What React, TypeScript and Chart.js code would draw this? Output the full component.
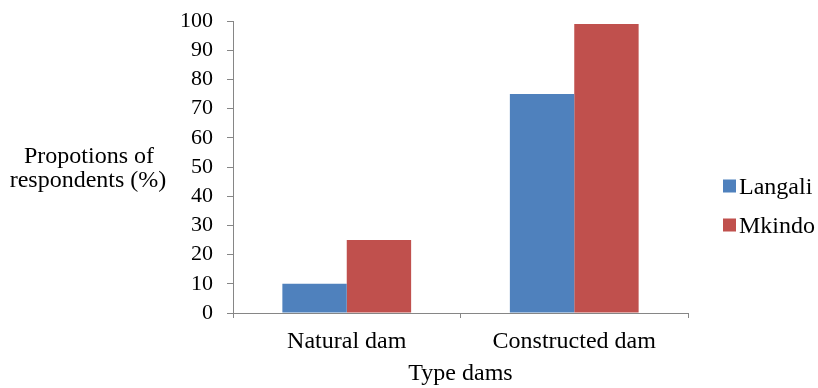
import React, { useEffect, useRef } from "react";
import { Chart, registerables } from "chart.js";

Chart.register(...registerables);

const categories = ["Natural dam", "Constructed dam"];
const langali = [10, 75];
const mkindo = [25, 99];
const seriesNames = ["Langali", "Mkindo"];
const seriesColors = ["#4F81BD", "#C0504D"];
const yTitleLines = ["Propotions of", "respondents (%)"];
const xTitle = "Type dams";

const FONT = "'Liberation Serif', 'Times New Roman', serif";

const extrasPlugin = {
  id: "extras",
  afterDraw(chart: any) {
    const ctx = chart.ctx;
    ctx.save();
    ctx.fillStyle = "#000";
    ctx.font = `24px ${FONT}`;
    ctx.textAlign = "center";
    ctx.textBaseline = "alphabetic";
    ctx.fillText(yTitleLines[0], 89, 163);
    ctx.fillText(yTitleLines[1], 88, 187);
    const items = chart.data.datasets;
    items.forEach((ds: any, i: number) => {
      const y = 186 + i * 39;
      ctx.fillStyle = ds.backgroundColor;
      ctx.fillRect(723, y - 6.5, 13, 13);
      ctx.fillStyle = "#000";
      ctx.textAlign = "left";
      ctx.textBaseline = "alphabetic";
      ctx.fillText(ds.label, 739, y + 7.5);
    });
    ctx.restore();
  },
};

export default function App() {
  const ref = useRef<HTMLCanvasElement>(null);
  useEffect(() => {
    document.body.style.margin = "0";
    const chart = new Chart(ref.current!, {
      type: "bar",
      data: {
        labels: categories,
        datasets: [
          { label: seriesNames[0], data: langali, backgroundColor: seriesColors[0], borderWidth: 0 },
          { label: seriesNames[1], data: mkindo, backgroundColor: seriesColors[1], borderWidth: 0 },
        ],
      },
      options: {
        animation: false,
        responsive: false,
        devicePixelRatio: 1,
        layout: { padding: { top: 21, right: 130, left: 0, bottom: 0 } },
        plugins: { legend: { display: false }, tooltip: { enabled: false } },
        datasets: { bar: { categoryPercentage: 0.566, barPercentage: 1 } } as any,
        scales: {
          x: {
            grid: { drawOnChartArea: false, drawTicks: true, tickLength: 5, color: "#868686", offset: true },
            border: { color: "#868686", width: 1 },
            ticks: { color: "#000", font: { family: FONT, size: 24 }, padding: 9, maxRotation: 0 },
            title: { display: true, text: xTitle, color: "#000", font: { family: FONT, size: 24 }, padding: { top: -2, bottom: 0 } },
            afterFit: (s: any) => { s.height = 75; s.paddingLeft = 0; s.paddingRight = 0; },
          },
          y: {
            min: 0,
            max: 100,
            grid: { drawOnChartArea: false, drawTicks: true, tickLength: 6, color: "#868686" },
            border: { color: "#868686", width: 1 },
            ticks: { stepSize: 10, autoSkip: false, color: "#000", font: { family: FONT, size: 22 }, padding: 14 },
            afterFit: (s: any) => { s.width = 233; s.paddingTop = 0; s.paddingBottom = 0; },
          },
        },
      },
      plugins: [extrasPlugin],
    });
    return () => chart.destroy();
  }, []);
  return (
    <div style={{ position: "absolute", left: 0, top: 0, width: 818, height: 388, background: "#fff" }}>
      <canvas ref={ref} width={818} height={388} style={{ width: 818, height: 388 }} />
    </div>
  );
}
